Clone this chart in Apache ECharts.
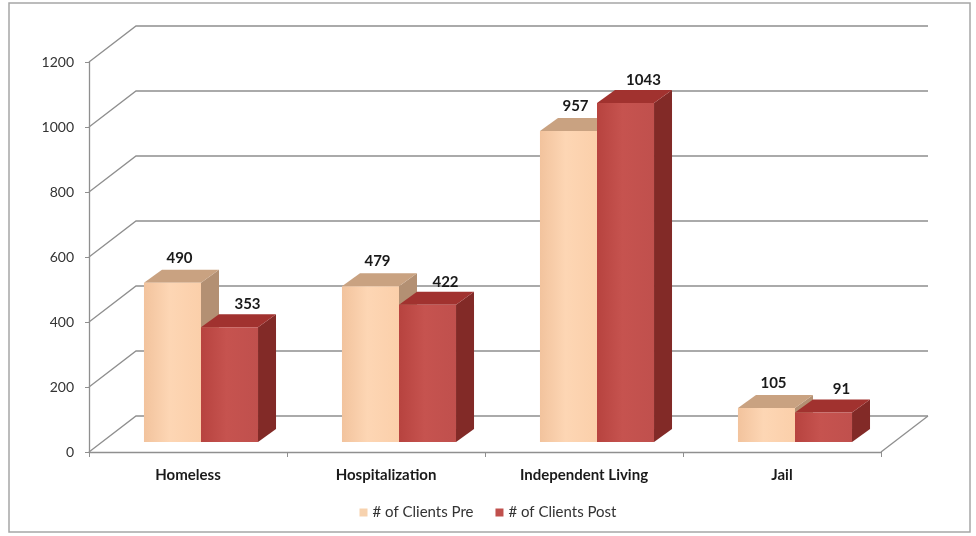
<!DOCTYPE html>
<html>
<head>
<meta charset="utf-8">
<script src="https://cdn.jsdelivr.net/npm/echarts@6/dist/echarts.min.js"></script>
<style>
  html, body { margin: 0; padding: 0; background: #ffffff; }
  #chart { width: 976px; height: 536px; }
</style>
</head>
<body>
<div id="chart"></div>
<script>
// Categories and client counts before / after
const categories = ['Homeless', 'Hospitalization', 'Independent Living', 'Jail'];
const seriesNames = ['# of Clients Pre', '# of Clients Post'];
const preValues = [490, 479, 957, 105];
const postValues = [353, 422, 1043, 91];
const valueTicks = [0, 200, 400, 600, 800, 1000, 1200];

// 3D look: depth of the whole plot box and where the bars sit inside it
const BOX_DEPTH = [47, -36];
const BAR_FRONT = [13, -10];
const BAR_BACK = [31, -23];
const BAR_FRACTION = 0.288;

const FONT = 'Lato, "Open Sans", sans-serif';

const palettes = [
  { front: ['#F2C39D', '#FDD6B4', '#FBCFAA'], top: '#C9A281', side: '#B39073', label: [7, -25] },
  { front: ['#B7433F', '#C6534F', '#C0504D'], top: '#A1322F', side: '#822A27', label: [18, -23] }
];

function barRenderer(seriesIdx) {
  return function (params, api) {
    const cat = api.value(0);
    const val = api.value(1);
    const top = api.coord([cat, val]);
    const base = api.coord([cat, 0]);
    const band = api.size([1, 0])[0];
    const w = band * BAR_FRACTION;
    const x0 = seriesIdx === 0 ? top[0] - w : top[0];
    const x1 = x0 + w;
    const yT = top[1];
    const yB = base[1];
    const p = palettes[seriesIdx];
    const F = BAR_FRONT, B = BAR_BACK;
    const front = {
      type: 'rect',
      shape: { x: x0 + F[0], y: yT + F[1], width: w, height: yB - yT },
      style: {
        fill: new echarts.graphic.LinearGradient(0, 0, 1, 0, [
          { offset: 0, color: p.front[0] },
          { offset: 0.45, color: p.front[1] },
          { offset: 1, color: p.front[2] }
        ])
      }
    };
    const topFace = {
      type: 'polygon',
      shape: { points: [
        [x0 + F[0], yT + F[1]], [x1 + F[0], yT + F[1]],
        [x1 + B[0], yT + B[1]], [x0 + B[0], yT + B[1]]
      ] },
      style: { fill: p.top }
    };
    const side = {
      type: 'polygon',
      shape: { points: [
        [x1 + F[0], yT + F[1]], [x1 + B[0], yT + B[1]],
        [x1 + B[0], yB + B[1]], [x1 + F[0], yB + F[1]]
      ] },
      style: { fill: p.side }
    };
    const label = {
      type: 'text',
      style: {
        text: String(val),
        x: (x0 + x1) / 2 + F[0] + p.label[0],
        y: yT + F[1] + p.label[1],
        align: 'center',
        verticalAlign: 'middle',
        fill: '#1a1a1a',
        font: 'bold 15px ' + FONT
      },
      z2: 10
    };
    return { type: 'group', children: [side, topFace, front, label] };
  };
}

// Back wall gridlines with the left-wall diagonals, plus the floor's right edge
function wallRenderer(params, api) {
  const cs = params.coordSys;
  const v = api.value(1);
  const y = api.coord([0, v])[1];
  const line = {
    type: 'polyline',
    shape: { points: [
      [cs.x, y], [cs.x + BOX_DEPTH[0], y + BOX_DEPTH[1]],
      [cs.x + cs.width + BOX_DEPTH[0], y + BOX_DEPTH[1]]
    ] },
    style: { stroke: '#8f8f8f', lineWidth: 1.3, fill: null }
  };
  const children = [line];
  if (v === 0) {
    children.push({
      type: 'line',
      shape: { x1: cs.x + cs.width, y1: y, x2: cs.x + cs.width + BOX_DEPTH[0], y2: y + BOX_DEPTH[1] },
      style: { stroke: '#8f8f8f', lineWidth: 1.3 }
    });
  }
  return { type: 'group', children };
}

const chart = echarts.init(document.getElementById('chart'), null, { renderer: 'canvas' });

chart.setOption({
  backgroundColor: '#ffffff',
  animation: false,
  textStyle: { fontFamily: FONT },
  graphic: [{
    type: 'rect',
    shape: { x: 9, y: 3, width: 961, height: 529 },
    style: { fill: null, stroke: '#a6a6a6', lineWidth: 1.5 },
    silent: true
  }],
  grid: { left: 89, right: 95, top: 62, bottom: 84 },
  legend: {
    bottom: 11,
    left: 'center',
    itemWidth: 8,
    itemHeight: 8,
    itemGap: 22,
    icon: 'rect',
    textStyle: { fontFamily: FONT, fontSize: 15, color: '#333333' },
    data: seriesNames
  },
  xAxis: {
    type: 'category',
    data: categories,
    axisLine: { show: true, lineStyle: { color: '#8f8f8f', width: 1.3 } },
    axisTick: { show: true, length: 5, lineStyle: { color: '#8f8f8f' } },
    axisLabel: { fontFamily: FONT, fontSize: 15, fontWeight: 'bold', color: '#1a1a1a', margin: 16 },
    splitLine: { show: false }
  },
  yAxis: {
    type: 'value',
    min: 0,
    max: 1200,
    interval: 200,
    axisLine: { show: true, lineStyle: { color: '#8f8f8f', width: 1.3 } },
    axisTick: { show: true, length: 4, lineStyle: { color: '#8f8f8f' } },
    axisLabel: {
      fontFamily: FONT, fontSize: 14, color: '#333333', margin: 15,
      formatter: v => String(v)
    },
    splitLine: { show: false }
  },
  series: [
    {
      type: 'custom',
      name: 'walls',
      renderItem: wallRenderer,
      data: valueTicks.map(v => [0, v]),
      silent: true,
      z: 1
    },
    {
      type: 'custom',
      name: seriesNames[0],
      renderItem: barRenderer(0),
      itemStyle: { color: '#F7D2AE' },
      data: preValues.map((v, i) => [i, v]),
      z: 2
    },
    {
      type: 'custom',
      name: seriesNames[1],
      renderItem: barRenderer(1),
      itemStyle: { color: '#C0504D' },
      data: postValues.map((v, i) => [i, v]),
      z: 3
    }
  ]
});
</script>
</body>
</html>
